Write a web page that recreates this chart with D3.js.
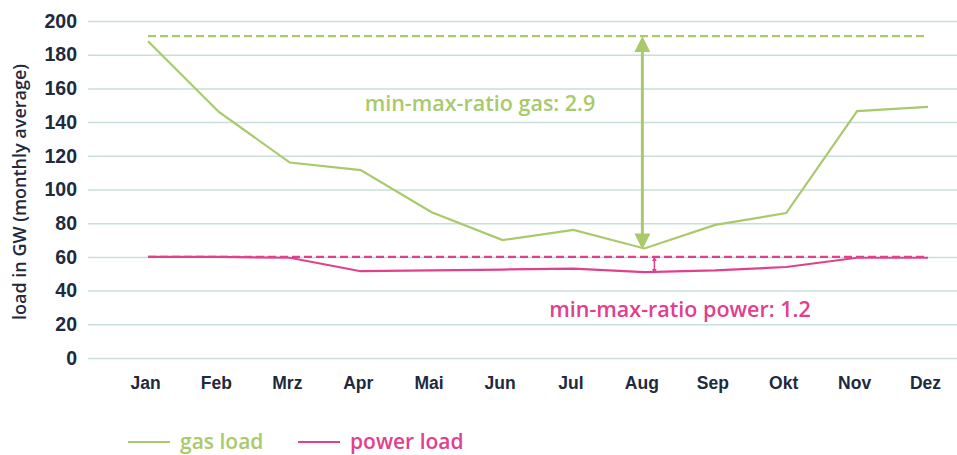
<!DOCTYPE html>
<html>
<head>
<meta charset="utf-8">
<script src="https://cdn.jsdelivr.net/npm/d3@7"></script>
<style>
  html, body { margin: 0; padding: 0; background: #fff; }
  svg { display: block; }
</style>
</head>
<body>
<div id="chart"></div>
<script>
// Monthly average load, Germany (GW)
const months = ['Jan', 'Feb', 'Mrz', 'Apr', 'Mai', 'Jun', 'Jul', 'Aug', 'Sep', 'Okt', 'Nov', 'Dez'];
const gasLoad = [188, 146, 116, 111.5, 86.5, 70, 76, 65, 79, 86, 146.5, 149];
const powerLoad = [60, 60, 59.5, 51.5, 52, 52.5, 53, 51, 52, 54, 59.5, 59.5];
const yTicks = [0, 20, 40, 60, 80, 100, 120, 140, 160, 180, 200];
const gasMax = 191;
const powerMax = 60;
const gasRatioLabel = 'min-max-ratio gas: 2.9';
const powerRatioLabel = 'min-max-ratio power: 1.2';

const width = 957, height = 455;
const colors = {
    gas: '#a9c96b',
    power: '#e0408c',
    grid: '#c9dedb',
    tick: '#1e2a3e'
};
const tickFont = '"Liberation Sans", Arial, sans-serif';
const textFont = '"Open Sans", "Noto Sans", sans-serif';

const svg = d3.select('#chart')
    .append('svg')
    .attr('width', width)
    .attr('height', height);

const x = d3.scalePoint()
    .domain(months)
    .range([148, 928]);

const y = d3.scaleLinear()
    .domain([0, 200])
    .range([358, 21]);

// Grid lines + y labels
const yAxis = d3.axisLeft(y)
    .tickValues(yTicks)
    .tickSize(-(width - 88))
    .tickPadding(11);

svg.append('g')
    .attr('transform', 'translate(88,0)')
    .call(yAxis)
    .call(g => g.select('.domain').remove())
    .call(g => g.selectAll('.tick line').attr('stroke', colors.grid).attr('stroke-width', 1.5))
    .call(g => g.selectAll('.tick text')
        .attr('fill', colors.tick)
        .style('font-family', tickFont)
        .style('font-weight', 'bold')
        .style('font-size', '19.5px'));

// Month labels
const xAxis = d3.axisBottom(x).tickSize(0).tickPadding(0);
svg.append('g')
    .attr('transform', 'translate(-3,377)')
    .call(xAxis)
    .call(g => g.select('.domain').remove())
    .call(g => g.selectAll('.tick text')
        .attr('fill', colors.tick)
        .style('font-family', tickFont)
        .style('font-weight', 'bold')
        .style('font-size', '17.5px'));

// Y axis title
svg.append('text')
    .attr('transform', 'translate(26,192) rotate(-90)')
    .attr('text-anchor', 'middle')
    .attr('fill', colors.tick)
    .style('font-family', textFont)
    .style('font-weight', 600)
    .style('font-size', '18px')
    .text('load in GW (monthly average)');

// Dashed max lines
const first = months[0], last = months[months.length - 1];
[[gasMax, colors.gas], [powerMax, colors.power]].forEach(([v, c]) => {
    svg.append('line')
        .attr('x1', x(first)).attr('x2', x(last))
        .attr('y1', y(v)).attr('y2', y(v))
        .attr('stroke', c)
        .attr('stroke-width', 2.2)
        .attr('stroke-dasharray', '8,4');
});

// Series lines
const line = d3.line()
    .x((d, i) => x(months[i]))
    .y(d => y(d));

svg.append('path')
    .datum(gasLoad)
    .attr('d', line)
    .attr('fill', 'none')
    .attr('stroke', colors.gas)
    .attr('stroke-width', 2.2);

svg.append('path')
    .datum(powerLoad)
    .attr('d', line)
    .attr('fill', 'none')
    .attr('stroke', colors.power)
    .attr('stroke-width', 2.2);

// Arrowheads
const defs = svg.append('defs');
function marker(id, color, size) {
    defs.append('marker')
        .attr('id', id)
        .attr('viewBox', '0 0 10 10')
        .attr('refX', 5).attr('refY', 5)
        .attr('markerWidth', size).attr('markerHeight', size)
        .attr('markerUnits', 'userSpaceOnUse')
        .attr('orient', 'auto-start-reverse')
        .append('path')
        .attr('d', 'M0,0 L10,5 L0,10 Z')
        .attr('fill', color);
}
marker('arrow-gas', colors.gas, 16);
marker('arrow-power', colors.power, 5);

// Gas min-max arrow (at August minimum)
const gasMinIdx = gasLoad.indexOf(d3.min(gasLoad));
svg.append('line')
    .attr('x1', x(months[gasMinIdx]) - 2).attr('x2', x(months[gasMinIdx]) - 2)
    .attr('y1', y(gasMax) + 8).attr('y2', y(d3.min(gasLoad)) - 7)
    .attr('stroke', colors.gas)
    .attr('stroke-width', 3)
    .attr('marker-start', 'url(#arrow-gas)')
    .attr('marker-end', 'url(#arrow-gas)');

// Power min-max arrow
const powerMinIdx = powerLoad.indexOf(d3.min(powerLoad));
svg.append('line')
    .attr('x1', x(months[powerMinIdx]) + 10).attr('x2', x(months[powerMinIdx]) + 10)
    .attr('y1', y(powerMax) + 2).attr('y2', y(d3.min(powerLoad)) - 1)
    .attr('stroke', colors.power)
    .attr('stroke-width', 1.5)
    .attr('marker-start', 'url(#arrow-power)')
    .attr('marker-end', 'url(#arrow-power)');

// Annotations
svg.append('text')
    .attr('x', 480).attr('y', 111)
    .attr('text-anchor', 'middle')
    .attr('fill', colors.gas)
    .style('font-family', textFont)
    .style('font-weight', 600)
    .style('font-size', '21.5px')
    .text(gasRatioLabel);

svg.append('text')
    .attr('x', 680).attr('y', 317)
    .attr('text-anchor', 'middle')
    .attr('fill', colors.power)
    .style('font-family', textFont)
    .style('font-weight', 600)
    .style('font-size', '21.5px')
    .text(powerRatioLabel);

// Legend
const legend = [
    { label: 'gas load', color: colors.gas, x: 128 },
    { label: 'power load', color: colors.power, x: 298 }
];
const lg = svg.append('g').attr('transform', 'translate(0,442)');
legend.forEach(d => {
    lg.append('line')
        .attr('x1', d.x).attr('x2', d.x + 42)
        .attr('y1', 0).attr('y2', 0)
        .attr('stroke', d.color)
        .attr('stroke-width', 2.2);
    lg.append('text')
        .attr('x', d.x + 52).attr('y', 7)
        .attr('fill', d.color)
        .style('font-family', textFont)
        .style('font-weight', 600)
        .style('font-size', '21px')
        .text(d.label);
});
</script>
</body>
</html>
